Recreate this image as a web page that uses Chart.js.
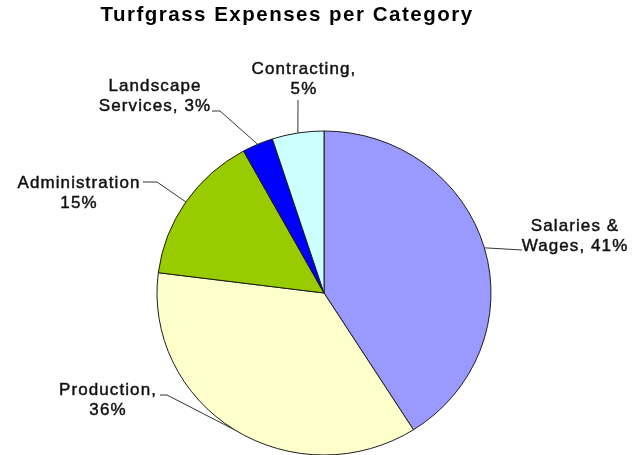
<!DOCTYPE html>
<html>
<head>
<meta charset="utf-8">
<title>Turfgrass Expenses per Category</title>
<script src="https://cdn.jsdelivr.net/npm/chart.js@4/dist/chart.umd.min.js"></script>
<style>
  html, body { margin: 0; padding: 0; background: #fff; overflow: hidden; }
  #pie { display: block; }
</style>
</head>
<body>
<canvas id="pie" width="636" height="470"></canvas>
<script>
/* global Chart */

const categories = ['Salaries & Wages', 'Production', 'Administration', 'Landscape Services', 'Contracting']
const shares = [41, 36, 15, 3, 5]
// label text per slice, {v} gets the share
const labelLines = [
  ['Salaries &', 'Wages, {v}%'],
  ['Production,', '{v}%'],
  ['Administration', '{v}%'],
  ['Landscape', 'Services, {v}%'],
  ['Contracting,', '{v}%']
]

const sliceColors = ['#9999ff', '#ffffcc', '#99cc00', '#0000ff', '#ccffff']
const squash = 162 / 167 // pie is drawn a touch flatter than round

// where each label sits and where its leader line starts
const labelSpots = [
  { x: 575, y: 231, lead: [[522, 250]] },
  { x: 108, y: 395, lead: [[160, 395], [167, 395]] },
  { x: 79, y: 188, lead: [[143, 182], [157, 182]] },
  { x: 155, y: 91, lead: [[212, 111], [220, 111]] },
  { x: 304, y: 74, lead: [[298, 100]] }
]

const squashPie = {
  id: 'squashPie',
  beforeDatasetsDraw (chart) {
    const arc = chart.getDatasetMeta(0).data[0]
    const ctx = chart.ctx
    ctx.save()
    ctx.translate(0, arc.y * (1 - squash))
    ctx.scale(1, squash)
  },
  afterDatasetsDraw (chart) {
    chart.ctx.restore()
  }
}

const leaderLabels = {
  id: 'leaderLabels',
  afterDraw (chart) {
    const ctx = chart.ctx
    const arcs = chart.getDatasetMeta(0).data
    ctx.save()

    // title
    ctx.fillStyle = '#000'
    ctx.textAlign = 'center'
    ctx.textBaseline = 'alphabetic'
    ctx.font = 'bold 20.5px "Liberation Sans", Arial, sans-serif'
    ctx.letterSpacing = '1.5px'
    ctx.fillText('Turfgrass Expenses per Category', 287, 21)

    ctx.font = '17px "Liberation Sans", Arial, sans-serif'
    ctx.letterSpacing = '1.1px'
    ctx.fillStyle = '#111'
    arcs.forEach((arc, i) => {
      const spot = labelSpots[i]
      labelLines[i].forEach((line, j) => {
        const txt = line.replace('{v}', shares[i])
        ctx.strokeStyle = '#111'
        ctx.lineWidth = 0.45
        ctx.fillText(txt, spot.x, spot.y + j * 20)
        ctx.strokeText(txt, spot.x, spot.y + j * 20)
      })
      // leader runs to the middle of the slice rim
      const { x, y, startAngle, endAngle, outerRadius } = arc.getProps(['x', 'y', 'startAngle', 'endAngle', 'outerRadius'])
      const mid = (startAngle + endAngle) / 2
      const ex = x + Math.cos(mid) * outerRadius
      const ey = y + Math.sin(mid) * outerRadius * squash
      ctx.strokeStyle = '#333'
      ctx.lineWidth = 1
      ctx.beginPath()
      spot.lead.forEach((p, k) => k ? ctx.lineTo(p[0], p[1]) : ctx.moveTo(p[0], p[1]))
      ctx.lineTo(ex, ey)
      ctx.stroke()
    })
    ctx.restore()
  }
}

const chart = new Chart(document.getElementById('pie'), {
  type: 'pie',
  data: {
    labels: categories,
    datasets: [{
      data: shares,
      backgroundColor: sliceColors,
      borderColor: '#1a1a1a',
      borderWidth: 1,
      radius: 167
    }]
  },
  options: {
    responsive: false,
    animation: false,
    devicePixelRatio: 1,
    layout: { padding: { left: 150, right: 138, top: 120, bottom: 4 } },
    plugins: {
      legend: { display: false },
      tooltip: { enabled: false }
    }
  },
  plugins: [squashPie, leaderLabels]
})
</script>
</body>
</html>
